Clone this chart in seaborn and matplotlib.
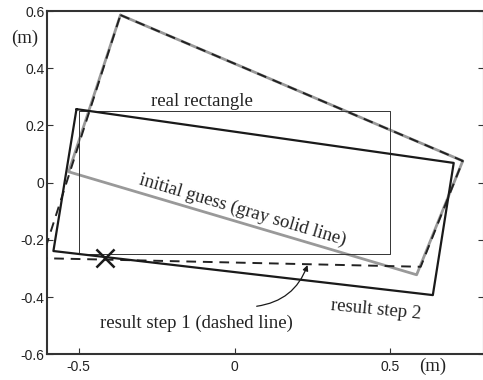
import matplotlib
matplotlib.use("Agg")
import matplotlib.pyplot as plt
import seaborn as sns
import pandas as pd

# ---- data ----
real_x = [-0.5, 0.5, 0.5, -0.5, -0.5]
real_y = [0.25, 0.25, -0.25, -0.25, 0.25]

guess_x = [-0.366, 0.732, 0.584, -0.532, -0.366]
guess_y = [0.586, 0.076, -0.322, 0.038, 0.586]

step1_x = [-0.366, 0.732, 0.597, -0.617, -0.366]
step1_y = [0.586, 0.076, -0.294, -0.264, 0.586]

step2_x = [-0.507, 0.703, 0.636, -0.581, -0.507]
step2_y = [0.257, 0.069, -0.393, -0.239, 0.257]

cross_x = [-0.417]
cross_y = [-0.264]

xticks = [-0.5, 0, 0.5]
xticklabels = ["-0.5", "0", "0.5"]
yticks = [-0.6, -0.4, -0.2, 0, 0.2, 0.4, 0.6]
yticklabels = ["-0.6", "-0.4", "-0.2", "0", "0.2", "0.4", "0.6"]

sns.set_style("white")
plt.rcParams["font.family"] = ["Liberation Sans", "DejaVu Sans"]
plt.rcParams["axes.unicode_minus"] = False

fig = plt.figure(figsize=(4.83, 3.80), dpi=100)
ax = fig.add_axes([0.0983, 0.0676, 0.9037, 0.9034])

def poly(xs, ys, **kw):
    df = pd.DataFrame({"x": xs, "y": ys})
    sns.lineplot(data=df, x="x", y="y", sort=False, estimator=None, ax=ax, **kw)

poly(guess_x, guess_y, color="#999999", lw=2.0, zorder=2)
poly(step1_x, step1_y, color="#222222", lw=1.4, zorder=3, linestyle=(0, (5, 3.5)))
poly(step2_x, step2_y, color="#1a1a1a", lw=1.6, zorder=4)
poly(real_x, real_y, color="#333333", lw=0.7, zorder=3)

sns.scatterplot(x=cross_x, y=cross_y, marker="x", s=170, color="#1a1a1a",
                linewidth=1.8, ax=ax, zorder=5)

ax.set_xlim(-0.6, 0.8)
ax.set_ylim(-0.6, 0.6)
ax.set_xticks(xticks)
ax.set_xticklabels(xticklabels)
ax.set_yticks(yticks)
ax.set_yticklabels(yticklabels)
ax.set_xlabel("")
ax.set_ylabel("")

for s in ax.spines.values():
    s.set_visible(True)
    s.set_color("#333333")
    s.set_linewidth(1.5)

ax.tick_params(axis="both", direction="in", length=4, width=0.8, color="#333333",
               labelsize=10, labelcolor="#222222")
ax.tick_params(axis="y", pad=2, right=True, left=True)
ax.tick_params(axis="x", pad=4, bottom=True, top=False)

serif = ["Liberation Serif", "DejaVu Serif"]
tc = "#222222"
ax.text(-0.103, 0.282, "real rectangle", family=serif, fontsize=13.5, color=tc,
        ha="center", va="center")
ax.text(0.026, -0.095, "initial guess (gray solid line)", family=serif, fontsize=13.5,
        color=tc, ha="center", va="center", rotation=-16.5, rotation_mode="anchor")
ax.text(0.453, -0.446, "result step 2", family=serif, fontsize=13.5, color=tc,
        ha="center", va="center", rotation=-5.5, rotation_mode="anchor")
ax.text(-0.122, -0.491, "result step 1 (dashed line)", family=serif, fontsize=13.5,
        color=tc, ha="center", va="center")
ax.annotate("", xy=(0.234, -0.288), xytext=(0.071, -0.432),
            arrowprops=dict(arrowstyle="-|>", connectionstyle="arc3,rad=0.3",
                            color="#1a1a1a", lw=0.9, mutation_scale=8,
                            shrinkA=0, shrinkB=0))

fig.text(24.5 / 483, 1 - 38 / 380, "(m)", family=serif, fontsize=13.5, color=tc,
         ha="center", va="center")
fig.text(433 / 483, 1 - 366 / 380, "(m)", family=serif, fontsize=13.5, color=tc,
         ha="center", va="center")

fig.savefig("out.png", dpi=100)
